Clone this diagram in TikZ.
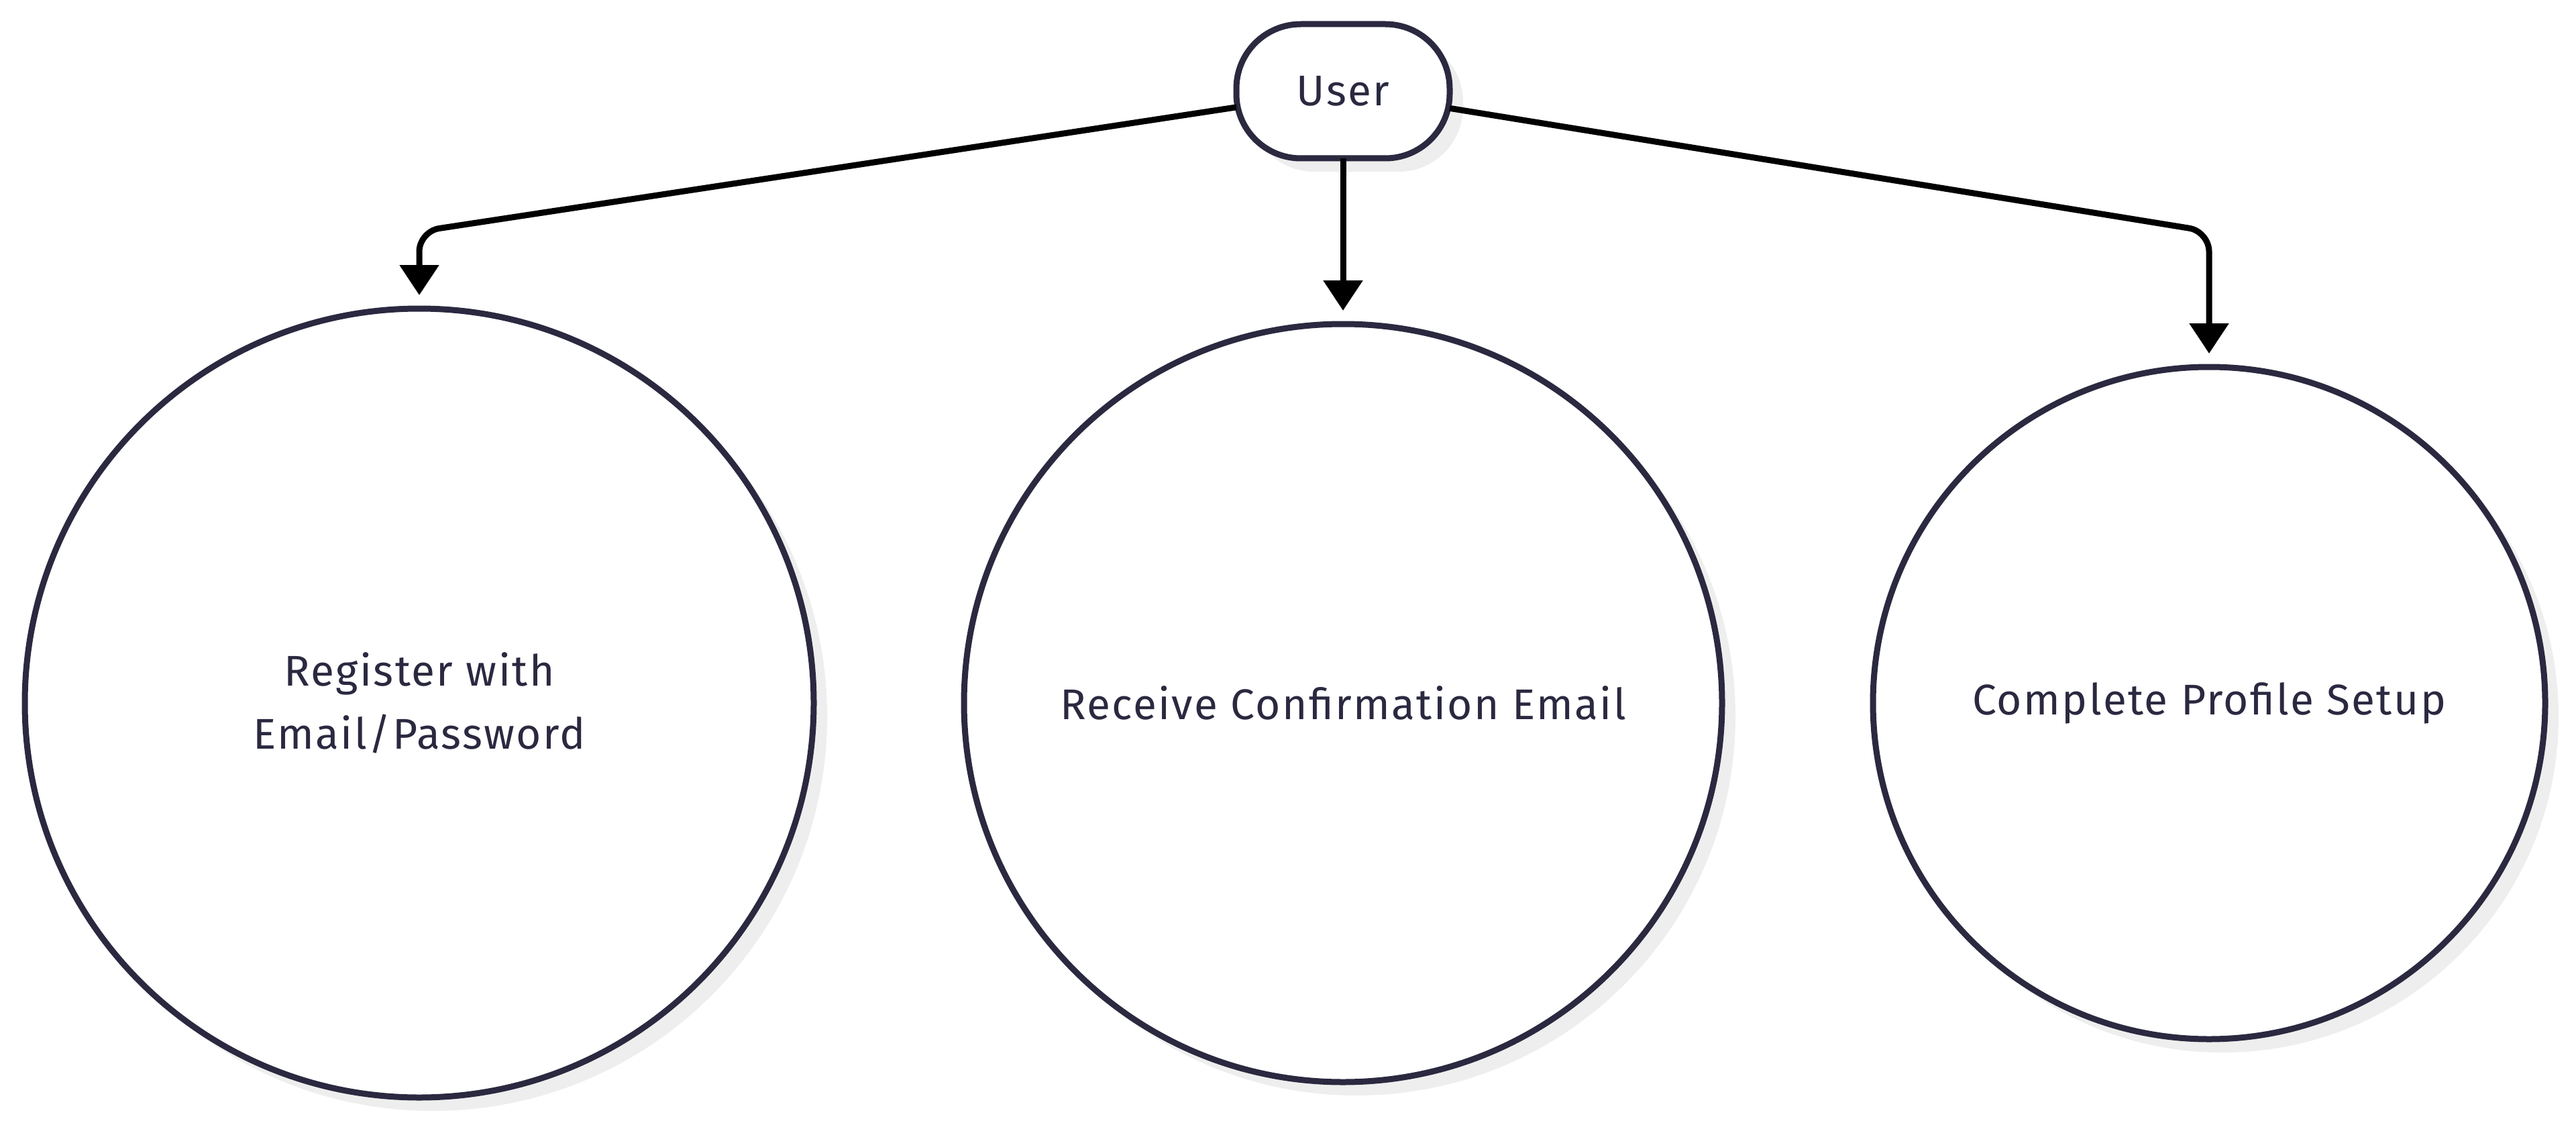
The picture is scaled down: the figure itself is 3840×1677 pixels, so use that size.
\documentclass[tikz,border=0pt]{standalone}
\usepackage{fontspec}
\setmainfont[LetterSpace=3.7]{Fira Sans}
\usetikzlibrary{arrows.meta,shadows}
\definecolor{ink}{HTML}{2A2940}
\definecolor{shade}{HTML}{EEEEEE}
\begin{document}
\begin{tikzpicture}[x=1pt,y=-1pt,
  lbl/.style={font=\fontsize{64}{94}\selectfont, text=ink},
  softshadow/.style={drop shadow={shadow xshift=20pt, shadow yshift=-20pt, fill=shade, opacity=1}},
  bubble/.style={circle, draw=ink, line width=9pt, fill=white, inner sep=0pt, outer sep=0pt, lbl, softshadow},
  actor/.style={rectangle, rounded corners=96pt, draw=ink, line width=9pt, fill=white,
    minimum width=318pt, minimum height=200pt, inner sep=0pt, outer sep=0pt, lbl, softshadow},
  link/.style={draw=black, line width=9pt, rounded corners=30pt,
    -{Triangle[width=57pt,length=45pt]}, shorten >=20pt}
]
\useasboundingbox (0,0) rectangle (3840,1677);
\node[actor] (user) at (2002,136) {User};
\node[bubble, minimum size=1176pt, align=center] (reg) at (625,1048) {Register with\\Email/Password};
\node[bubble, minimum size=1130pt] (conf) at (2002,1048) {Receive Confirmation Email};
\node[bubble, minimum size=1002pt] (prof) at (3293,1048) {Complete Profile Setup};
\coordinate (bendL) at (625,345);
\coordinate (bendR) at (3293,345);
\draw[link] (user) -- (bendL) -- (reg);
\draw[link] (user) -- (conf);
\draw[link] (user) -- (bendR) -- (prof);
\end{tikzpicture}
\end{document}
